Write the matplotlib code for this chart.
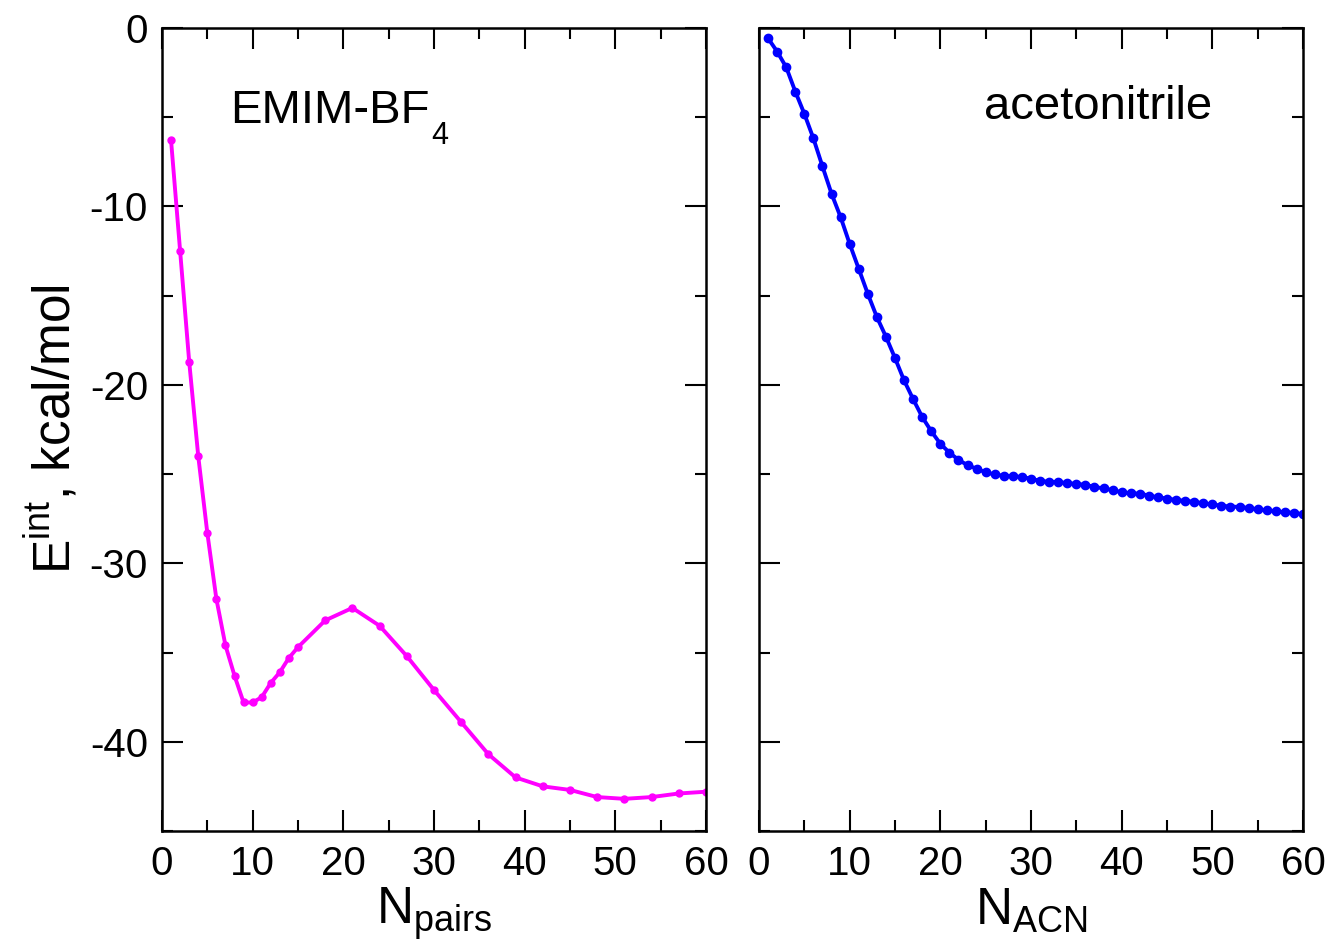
import numpy as np
import matplotlib
matplotlib.use('Agg')
import matplotlib.pyplot as plt
from matplotlib.ticker import MultipleLocator

plt.rcParams['font.family'] = ['Liberation Sans', 'DejaVu Sans']
plt.rcParams['mathtext.fontset'] = 'custom'
plt.rcParams['mathtext.rm'] = 'Liberation Sans'
plt.rcParams['mathtext.it'] = 'Liberation Sans:italic'
plt.rcParams['axes.unicode_minus'] = False

# EMIM-BF4 ion pairs
n_pairs = [1, 2, 3, 4, 5, 6, 7, 8, 9, 10, 11, 12, 13, 14, 15,
           18, 21, 24, 27, 30, 33, 36, 39, 42, 45, 48, 51, 54, 57, 60]
e_pairs = [-6.3, -12.5, -18.7, -24.0, -28.3, -32.0, -34.6, -36.3, -37.8, -37.8,
           -37.5, -36.7, -36.1, -35.3, -34.7,
           -33.2, -32.5, -33.5, -35.2, -37.1, -38.9, -40.7, -42.0, -42.5,
           -42.7, -43.1, -43.2, -43.1, -42.9, -42.8]

# acetonitrile molecules
n_acn = list(range(1, 61))
e_acn = [-0.58, -1.32, -2.2, -3.56, -4.81, -6.19, -7.76, -9.29, -10.6, -12.1,
         -13.5, -14.9, -16.2, -17.3, -18.5, -19.75, -20.8, -21.8, -22.6, -23.3,
         -23.8, -24.2, -24.5, -24.7, -24.9, -25.02, -25.1, -25.12, -25.16, -25.26,
         -25.38, -25.43, -25.45, -25.5, -25.55, -25.6, -25.72, -25.8, -25.9, -26.02,
         -26.07, -26.1, -26.2, -26.3, -26.37, -26.45, -26.5, -26.55, -26.64, -26.7,
         -26.77, -26.82, -26.84, -26.9, -26.97, -27.03, -27.08, -27.14, -27.17, -27.25]

fig = plt.figure(figsize=(13.3, 9.5), dpi=100)
ax1 = fig.add_axes([0.1218, 0.1253, 0.409, 0.8452])
ax2 = fig.add_axes([0.5707, 0.1253, 0.409, 0.8452])

ax1.plot(n_pairs, e_pairs, color='#ff00ff', linewidth=2.8, marker='o', markersize=5)
ax2.plot(n_acn, e_acn, color='#0000ff', linewidth=2.8, marker='o', markersize=6)

for ax in (ax1, ax2):
    ax.set_xlim(0, 60)
    ax.set_ylim(-45, 0)
    ax.xaxis.set_major_locator(MultipleLocator(10))
    ax.xaxis.set_minor_locator(MultipleLocator(5))
    ax.yaxis.set_major_locator(MultipleLocator(10))
    ax.yaxis.set_minor_locator(MultipleLocator(5))
    ax.tick_params(which='both', direction='in', top=True, right=True,
                   width=1.5, labelsize=29, pad=10)
    ax.tick_params(which='major', length=15)
    ax.tick_params(which='minor', length=8)
    for sp in ax.spines.values():
        sp.set_linewidth(1.8)

ax2.tick_params(labelleft=False)

ax1.set_xlabel(r'N$_{\mathrm{pairs}}$', fontsize=37, labelpad=2)
ax2.set_xlabel(r'N$_{\mathrm{ACN}}$', fontsize=37, labelpad=2)
ax1.set_ylabel(r'E$^{\mathrm{int}}$, kcal/mol', fontsize=37, labelpad=6)

# panel labels
t = ax1.text(7.5, -5.3, 'EMIM-BF', fontsize=34, va='baseline', ha='left')
ax1.annotate('4', xy=(1, 0), xycoords=t, xytext=(1, -8),
             textcoords='offset points', fontsize=22, va='baseline', ha='left')
ax2.text(37.4, -5.1, 'acetonitrile', fontsize=34, va='baseline', ha='center')

fig.savefig('out.png', dpi=100)
